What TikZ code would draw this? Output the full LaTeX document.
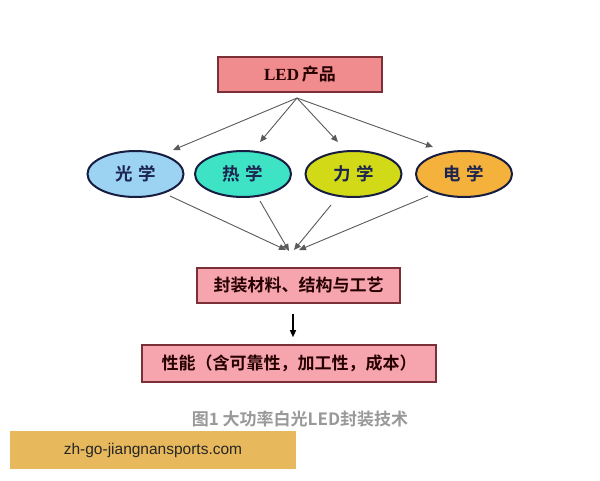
\documentclass[tikz,border=0pt]{standalone}
\usepackage{fontspec}
\newfontfamily\cjk{Noto Sans CJK SC}
\newfontfamily\cjkb{Noto Sans CJK SC Bold}
\setsansfont{Liberation Sans}
\usetikzlibrary{shapes.geometric,arrows.meta}
\definecolor{ledfill}{HTML}{F08C8E}
\definecolor{boxfill}{HTML}{F6A4AE}
\definecolor{boxline}{HTML}{7A3036}
\definecolor{cblue}{HTML}{9CD2F2}
\definecolor{cteal}{HTML}{3EE2C4}
\definecolor{cyel}{HTML}{D2DA18}
\definecolor{corange}{HTML}{F4B23C}
\definecolor{ink}{HTML}{1C2450}
\definecolor{arrowgray}{HTML}{5A5A5A}
\definecolor{wmfill}{HTML}{E8B95C}
\tikzset{
  x=1pt,y=-1pt,
  rbox/.style={draw=boxline,line width=1.6pt,fill=boxfill,minimum height=35pt,inner sep=0pt,font=\cjkb\fontsize{17}{17}\selectfont,text=black!85!red},
  ell/.style={ellipse,draw=ink!80!black,line width=2pt,minimum width=96pt,minimum height=46pt,inner sep=0pt,font=\cjkb\fontsize{17.5}{17.5}\selectfont,text=ink},
  conn/.style={draw=arrowgray,line width=0.9pt,-{Triangle[length=7pt,width=6pt]}},
}
\begin{document}
\begin{tikzpicture}
\useasboundingbox[fill=white] (0,0) rectangle (600,480);
\node[rbox,fill=ledfill,minimum width=164pt] (led) at (300,74.5) {\textbf{\fontspec{Liberation Serif}LED}\,产品};
\node[ell,fill=cblue] (opt) at (135.5,174) {光\,\,学};
\node[ell,fill=cteal] (therm) at (243,174) {热\,\,学};
\node[ell,fill=cyel] (mech) at (353.5,174) {力\,\,学};
\node[ell,fill=corange] (elec) at (464,174) {电\,\,学};
\node[rbox,minimum width=203pt] (pkg) at (298.5,285.5) {封装材料、结构与工艺};
\node[rbox,minimum width=294pt,minimum height=37pt] (perf) at (289,363.5) {性能（含可靠性，加工性，成本）};
\node[font=\cjkb\fontsize{17}{17}\selectfont,text=black!40] (cap) at (300,419) {图1\ 大功率白光LED封装技术};
\node[fill=wmfill,minimum width=286pt,minimum height=38pt,inner sep=0pt,font=\sffamily\fontsize{15.5}{15.5}\selectfont,text=black!85] (wm) at (153,450) {zh-go-jiangnansports.com};
\coordinate (src) at (297,98);
\coordinate (t1) at (173,150);
\coordinate (t2) at (260,142);
\coordinate (t3) at (338,142);
\coordinate (t4) at (433,147);
\draw[conn] (src) -- (t1);
\draw[conn] (src) -- (t2);
\draw[conn] (src) -- (t3);
\draw[conn] (src) -- (t4);
\coordinate (b1) at (170,196);
\coordinate (b2) at (260,201);
\coordinate (b3) at (331,205);
\coordinate (b4) at (428,196);
\coordinate (c1) at (286,250);
\coordinate (c2) at (289,251);
\coordinate (c3) at (294,250);
\coordinate (c4) at (299,250);
\draw[conn] (b1) -- (c1);
\draw[conn] (b2) -- (c2);
\draw[conn] (b3) -- (c3);
\draw[conn] (b4) -- (c4);
\draw[conn,draw=black,line width=1.2pt] ([yshift=-10pt]pkg.south -| 293,0) -- ([yshift=7pt]perf.north -| 293,0);
\end{tikzpicture}
\end{document}
